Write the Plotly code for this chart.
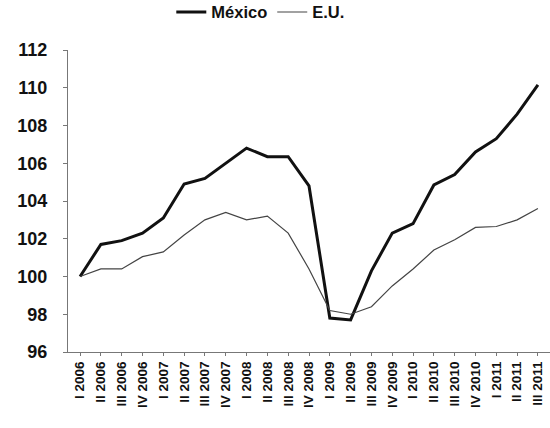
import plotly.graph_objects as go

quarters = ["I 2006", "II 2006", "III 2006", "IV 2006",
            "I 2007", "II 2007", "III 2007", "IV 2007",
            "I 2008", "II 2008", "III 2008", "IV 2008",
            "I 2009", "II 2009", "III 2009", "IV 2009",
            "I 2010", "II 2010", "III 2010", "IV 2010",
            "I 2011", "II 2011", "III 2011"]

mexico = [100.0, 101.7, 101.9, 102.3, 103.1, 104.9, 105.2, 106.0,
          106.8, 106.35, 106.35, 104.8, 97.8, 97.7, 100.3, 102.3,
          102.8, 104.85, 105.4, 106.6, 107.3, 108.6, 110.15]

eu = [100.0, 100.4, 100.4, 101.05, 101.3, 102.2, 103.0, 103.4,
      103.0, 103.2, 102.3, 100.4, 98.2, 98.0, 98.4, 99.5,
      100.4, 101.4, 101.95, 102.6, 102.65, 103.0, 103.6]

yticks = [96, 98, 100, 102, 104, 106, 108, 110, 112]

fig = go.Figure()
fig.add_trace(go.Scatter(x=quarters, y=mexico, mode="lines", name="México",
                         line=dict(color="#111111", width=3)))
fig.add_trace(go.Scatter(x=quarters, y=eu, mode="lines", name="E.U.",
                         line=dict(color="#444444", width=1.2)))

fig.update_layout(
    width=550, height=428,
    margin=dict(l=68, r=0, t=50, b=76, autoexpand=False),
    paper_bgcolor="white", plot_bgcolor="white",
    font=dict(family="Liberation Sans, Arial", color="#111111"),
    showlegend=True,
    legend=dict(orientation="h", x=0.40, xanchor="center", y=1.125, yanchor="middle",
                font=dict(size=16.5, family="Liberation Sans, Arial", weight="bold"),
                itemwidth=30, bgcolor="rgba(0,0,0,0)"),
)
fig.update_xaxes(
    type="category", range=[-0.58, 22.58], automargin=False,
    showline=True, linecolor="#777777", linewidth=1,
    ticks="outside", ticklen=3, tickcolor="#777777",
    tickangle=-90, tickfont=dict(size=13.5, weight="bold", family="Liberation Sans, Arial"),
    showgrid=False, zeroline=False,
)
fig.update_yaxes(
    range=[96, 112], tickvals=yticks, automargin=False,
    showline=True, linecolor="#777777", linewidth=1,
    ticks="outside", ticklen=4, tickcolor="#777777", ticklabelstandoff=12,
    tickfont=dict(size=18, weight="bold", family="Liberation Sans, Arial"),
    showgrid=False, zeroline=False,
)

fig.write_html("out.html", config={"displayModeBar": False},
               post_script="document.body.style.margin='0';document.body.style.overflow='hidden';")
